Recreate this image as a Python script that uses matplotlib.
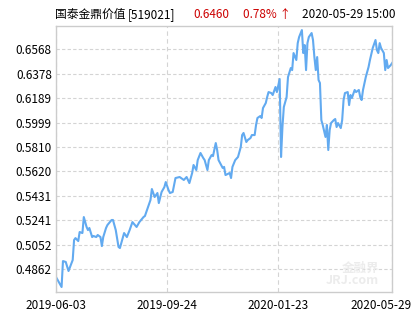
import matplotlib
matplotlib.use("Agg")
import matplotlib.pyplot as plt
from matplotlib.transforms import ScaledTranslation

plt.rcParams['font.family'] = ['Noto Sans CJK SC', 'DejaVu Sans']

# trading-day index (0 = 2019-06-03) and unit net value
days = [0, 4, 5, 7, 9, 12, 13, 14, 16, 17, 19, 20, 22, 23, 24, 26, 27, 29, 30, 32,
        33, 34, 36, 37, 40, 41, 43, 45, 46, 49, 51, 53, 55, 58, 60, 63, 64, 66, 68, 69,
        71, 73, 74, 76, 78, 79, 81, 82, 84, 85, 86, 89, 90, 92, 94, 96, 98, 99, 101, 102,
        104, 106, 107, 109, 110, 112, 113, 115, 116, 117, 120, 121, 122, 125, 126, 127, 129, 131, 133, 134,
        135, 137, 138, 140, 141, 143, 144, 145, 147, 148, 149, 151, 152, 153, 155, 156, 158, 159, 161, 162,
        163, 164, 166, 167, 169, 170, 171, 173, 174, 175, 177, 178, 179, 180, 181, 182, 184, 185, 186, 187,
        188, 189, 190, 191, 192, 194, 195, 196, 197, 198, 200, 201, 202, 203, 205, 206, 207, 208, 210, 211,
        212, 213, 215, 216, 218, 219, 220, 221, 223, 225, 226, 228, 230, 231, 232, 233, 234, 236, 237, 238,
        239, 241, 242]
values = [0.4802, 0.4725, 0.4926, 0.4919, 0.4849, 0.4934, 0.5089, 0.5104, 0.5081, 0.5151,
          0.5143, 0.5267, 0.5190, 0.5166, 0.5182, 0.5112, 0.5120, 0.5112, 0.5128, 0.5112,
          0.5042, 0.5112, 0.5182, 0.5205, 0.5244, 0.5244, 0.5166, 0.5035, 0.5027, 0.5143,
          0.5112, 0.5166, 0.5228, 0.5190, 0.5228, 0.5267, 0.5275, 0.5337, 0.5399, 0.5484,
          0.5422, 0.5453, 0.5375, 0.5461, 0.5499, 0.5538, 0.5476, 0.5453, 0.5461, 0.5515,
          0.5569, 0.5577, 0.5569, 0.5554, 0.5577, 0.5530, 0.5608, 0.5670, 0.5631, 0.5708,
          0.5763, 0.5724, 0.5708, 0.5631, 0.5708, 0.5747, 0.5739, 0.5840, 0.5786, 0.5708,
          0.5647, 0.5655, 0.5592, 0.5608, 0.5569, 0.5655, 0.5708, 0.5732, 0.5809, 0.5902,
          0.5918, 0.5848, 0.5863, 0.5879, 0.5902, 0.5902, 0.5980, 0.6034, 0.6049, 0.6034,
          0.6111, 0.6150, 0.6196, 0.6235, 0.6227, 0.6212, 0.6274, 0.6235, 0.6336, 0.5732,
          0.5964, 0.6119, 0.6196, 0.6351, 0.6421, 0.6405, 0.6537, 0.6483, 0.6614, 0.6661,
          0.6715, 0.6537, 0.6599, 0.6405, 0.6614, 0.6661, 0.6692, 0.6638, 0.6506, 0.6405,
          0.6506, 0.6328, 0.6305, 0.6018, 0.5980, 0.5887, 0.5980, 0.5786, 0.5941, 0.5995,
          0.6018, 0.6026, 0.5964, 0.5995, 0.5956, 0.6018, 0.6173, 0.6227, 0.6235, 0.6134,
          0.6212, 0.6189, 0.6251, 0.6235, 0.6251, 0.6196, 0.6173, 0.6251, 0.6351, 0.6429,
          0.6483, 0.6576, 0.6638, 0.6560, 0.6537, 0.6614, 0.6576, 0.6537, 0.6405, 0.6483,
          0.6421, 0.6444, 0.6460]

x_ticks = [0, 80, 160, 242]
x_labels = ['2019-06-03', '2019-09-24', '2020-01-23', '2020-05-29']
y_ticks = [0.4862, 0.5052, 0.5241, 0.5431, 0.5620, 0.5810, 0.5999, 0.6189, 0.6378, 0.6568]

fig = plt.figure(figsize=(4.15, 3.3), dpi=100)
ax = fig.add_axes([0.135, 0.115, 0.81, 0.806])

ax.plot(days, values, color='#62aaf0', lw=1.5)

ax.set_xlim(0, 242)
ax.set_ylim(0.4686, 0.6746)
ax.set_xticks(x_ticks)
ax.set_xticklabels(x_labels)
ax.set_yticks(y_ticks)
ax.set_yticklabels(['%.4f' % v for v in y_ticks])
ax.tick_params(length=0, labelsize=8.5, colors='black')
ax.tick_params(axis='y', pad=3)
ax.tick_params(axis='x', pad=5)

ax.grid(axis='y', color='#d4d4d4', ls=(0, (3, 2)), lw=0.8)
ax.grid(axis='x', color='#d4d4d4', ls=(0, (4, 3)), lw=0.8)
for s in ax.spines.values():
    s.set_color('#cccccc')
    s.set_linewidth(1)

# last date label sits a bit left of the frame edge
lbl = ax.get_xticklabels()[-1]
lbl.set_transform(lbl.get_transform() + ScaledTranslation(-0.11, 0, fig.dpi_scale_trans))

# watermark
ax.text(0.96, 0.02, '金融界\nJRJ.com', transform=ax.transAxes, ha='right', va='bottom',
        fontsize=9, color='#ececec', fontweight='bold', linespacing=0.9)

# header
fig.text(55 / 415, 0.955, '国泰金鼎价值', fontsize=8.5, color='black', va='center')
fig.text(128 / 415, 0.955, '[519021]', fontsize=8.5, color='black', va='center')
fig.text(193 / 415, 0.955, '0.6460', fontsize=8.5, color='#cc0000', va='center')
fig.text(243 / 415, 0.955, '0.78% ↑', fontsize=8.5, color='#cc0000', va='center')
fig.text(302 / 415, 0.955, '2020-05-29 15:00', fontsize=8.5, color='black', va='center')

fig.savefig('out.png', dpi=100)
